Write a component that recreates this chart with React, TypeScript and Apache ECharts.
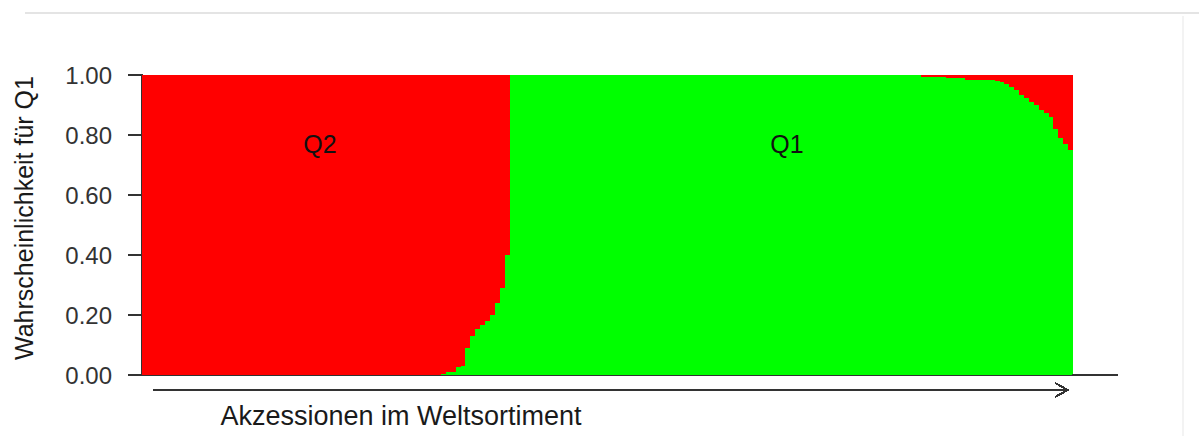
import React, { useEffect, useRef } from "react";
import * as echarts from "echarts";

// Probability of membership in Q1 for each accession (sorted)
const q1Prob: number[] = [
  0, 0, 0, 0, 0, 0, 0, 0, 0, 0,
  0, 0, 0, 0, 0, 0, 0, 0, 0, 0,
  0, 0, 0, 0, 0, 0, 0, 0, 0, 0,
  0, 0, 0, 0, 0, 0, 0, 0, 0, 0,
  0, 0, 0, 0, 0, 0, 0, 0, 0, 0,
  0, 0, 0, 0, 0, 0, 0, 0, 0, 0,
  0, 0.003, 0.01, 0.01, 0.027, 0.03, 0.09, 0.13, 0.155, 0.167,
  0.18, 0.2, 0.24, 0.29, 0.4, 1, 1, 1, 1, 1,
  1, 1, 1, 1, 1, 1, 1, 1, 1, 1,
  1, 1, 1, 1, 1, 1, 1, 1, 1, 1,
  1, 1, 1, 1, 1, 1, 1, 1, 1, 1,
  1, 1, 1, 1, 1, 1, 1, 1, 1, 1,
  1, 1, 1, 1, 1, 1, 1, 1, 1, 1,
  1, 1, 1, 1, 1, 1, 1, 1, 1, 1,
  1, 1, 1, 1, 1, 1, 1, 1, 1, 1,
  1, 1, 1, 1, 1, 1, 1, 1, 1, 0.995,
  0.995, 0.995, 0.995, 0.995, 0.99, 0.99, 0.99, 0.99, 0.985, 0.985,
  0.985, 0.985, 0.985, 0.985, 0.98, 0.978, 0.97, 0.96, 0.95, 0.935,
  0.925, 0.91, 0.9, 0.885, 0.875, 0.86, 0.82, 0.79, 0.77, 0.75,
];

// Complementary probability (Q2)
const q2Prob: number[] = q1Prob.map((v) => +(1 - v).toFixed(4));

const accessions: string[] = q1Prob.map((_, i) => String(i + 1));

const yTickLabels: string[] = ["0.00", "0.20", "0.40", "0.60", "0.80", "1.00"];

const groupLabels: string[] = ["Q2", "Q1"];
const xTitle = "Akzessionen im Weltsortiment";
const yTitle = "Wahrscheinlichkeit für Q1";

const FONT = "'Liberation Sans', Arial, sans-serif";
const RED = "#ff0000";
const GREEN = "#00ff00";
const AXIS = "#333333";

export default function App() {
  const ref = useRef<HTMLDivElement>(null);

  useEffect(() => {
    if (!ref.current) return;
    const chart = echarts.init(ref.current, undefined, { renderer: "svg" });
    const option: any = {
      animation: false,
      backgroundColor: "#ffffff",
      grid: { left: 142, right: 126, top: 75, bottom: 61 },
      xAxis: {
        type: "category",
        data: accessions,
        boundaryGap: true,
        axisLine: { show: true, lineStyle: { color: AXIS, width: 2 } },
        axisTick: { show: false },
        axisLabel: { show: false },
        splitLine: { show: false },
      },
      yAxis: {
        type: "value",
        min: 0,
        max: 1,
        interval: 0.2,
        axisLine: { show: true, lineStyle: { color: AXIS, width: 1.5 } },
        axisTick: { show: true, length: 14, lineStyle: { color: AXIS, width: 1.5 } },
        axisLabel: {
          margin: 30,
          color: "#333",
          fontFamily: FONT,
          fontSize: 24,
          formatter: (v: number) => yTickLabels[Math.round(v / 0.2)],
        },
        splitLine: { show: false },
      },
      series: [
        {
          name: "Q1",
          type: "bar",
          stack: "p",
          data: q1Prob,
          barCategoryGap: "0%",
          itemStyle: { color: GREEN, borderWidth: 0 },
          silent: true,
          z: 2,
        },
        {
          name: "Q2",
          type: "bar",
          stack: "p",
          data: q2Prob,
          barCategoryGap: "0%",
          itemStyle: { color: RED, borderWidth: 0 },
          silent: true,
          z: 2,
        },
      ],
      graphic: [
        {
          type: "line",
          z: 100,
          shape: { x1: 25, y1: 13, x2: 1199, y2: 13 },
          style: { stroke: "#e4e4e4", lineWidth: 2 },
        },
        {
          type: "line",
          z: 100,
          shape: { x1: 1183, y1: 16, x2: 1183, y2: 436 },
          style: { stroke: "#f3f3f3", lineWidth: 2 },
        },
        {
          type: "line",
          z: 100,
          shape: { x1: 1072, y1: 375, x2: 1118, y2: 375 },
          style: { stroke: AXIS, lineWidth: 2 },
        },
        {
          type: "line",
          z: 100,
          shape: { x1: 153, y1: 390, x2: 1067, y2: 390 },
          style: { stroke: AXIS, lineWidth: 2 },
        },
        {
          type: "polyline",
          z: 100,
          shape: { points: [[1055, 383], [1068, 390], [1055, 397]] },
          style: { stroke: AXIS, lineWidth: 2, fill: "none" },
        },
        {
          type: "text",
          z: 100,
          x: 320,
          y: 144,
          style: {
            text: groupLabels[0],
            fill: "#111",
            font: `25px ${FONT}`,
            textAlign: "center",
            textVerticalAlign: "middle",
          },
        },
        {
          type: "text",
          z: 100,
          x: 787,
          y: 144,
          style: {
            text: groupLabels[1],
            fill: "#111",
            font: `25px ${FONT}`,
            textAlign: "center",
            textVerticalAlign: "middle",
          },
        },
        {
          type: "text",
          z: 100,
          x: 401,
          y: 416,
          style: {
            text: xTitle,
            fill: "#1a1a1a",
            font: `27px ${FONT}`,
            textAlign: "center",
            textVerticalAlign: "middle",
          },
        },
        {
          type: "text",
          z: 100,
          x: 24,
          y: 218,
          rotation: Math.PI / 2,
          style: {
            text: yTitle,
            fill: "#1a1a1a",
            font: `25px ${FONT}`,
            textAlign: "center",
            textVerticalAlign: "middle",
          },
        },
      ],
    };
    chart.setOption(option);
    const svg = ref.current.querySelector("svg");
    if (svg) svg.setAttribute("shape-rendering", "crispEdges");
    return () => chart.dispose();
  }, []);

  return (
    <div
      ref={ref}
      style={{ position: "absolute", left: 0, top: 0, width: 1199, height: 436 }}
    />
  );
}
